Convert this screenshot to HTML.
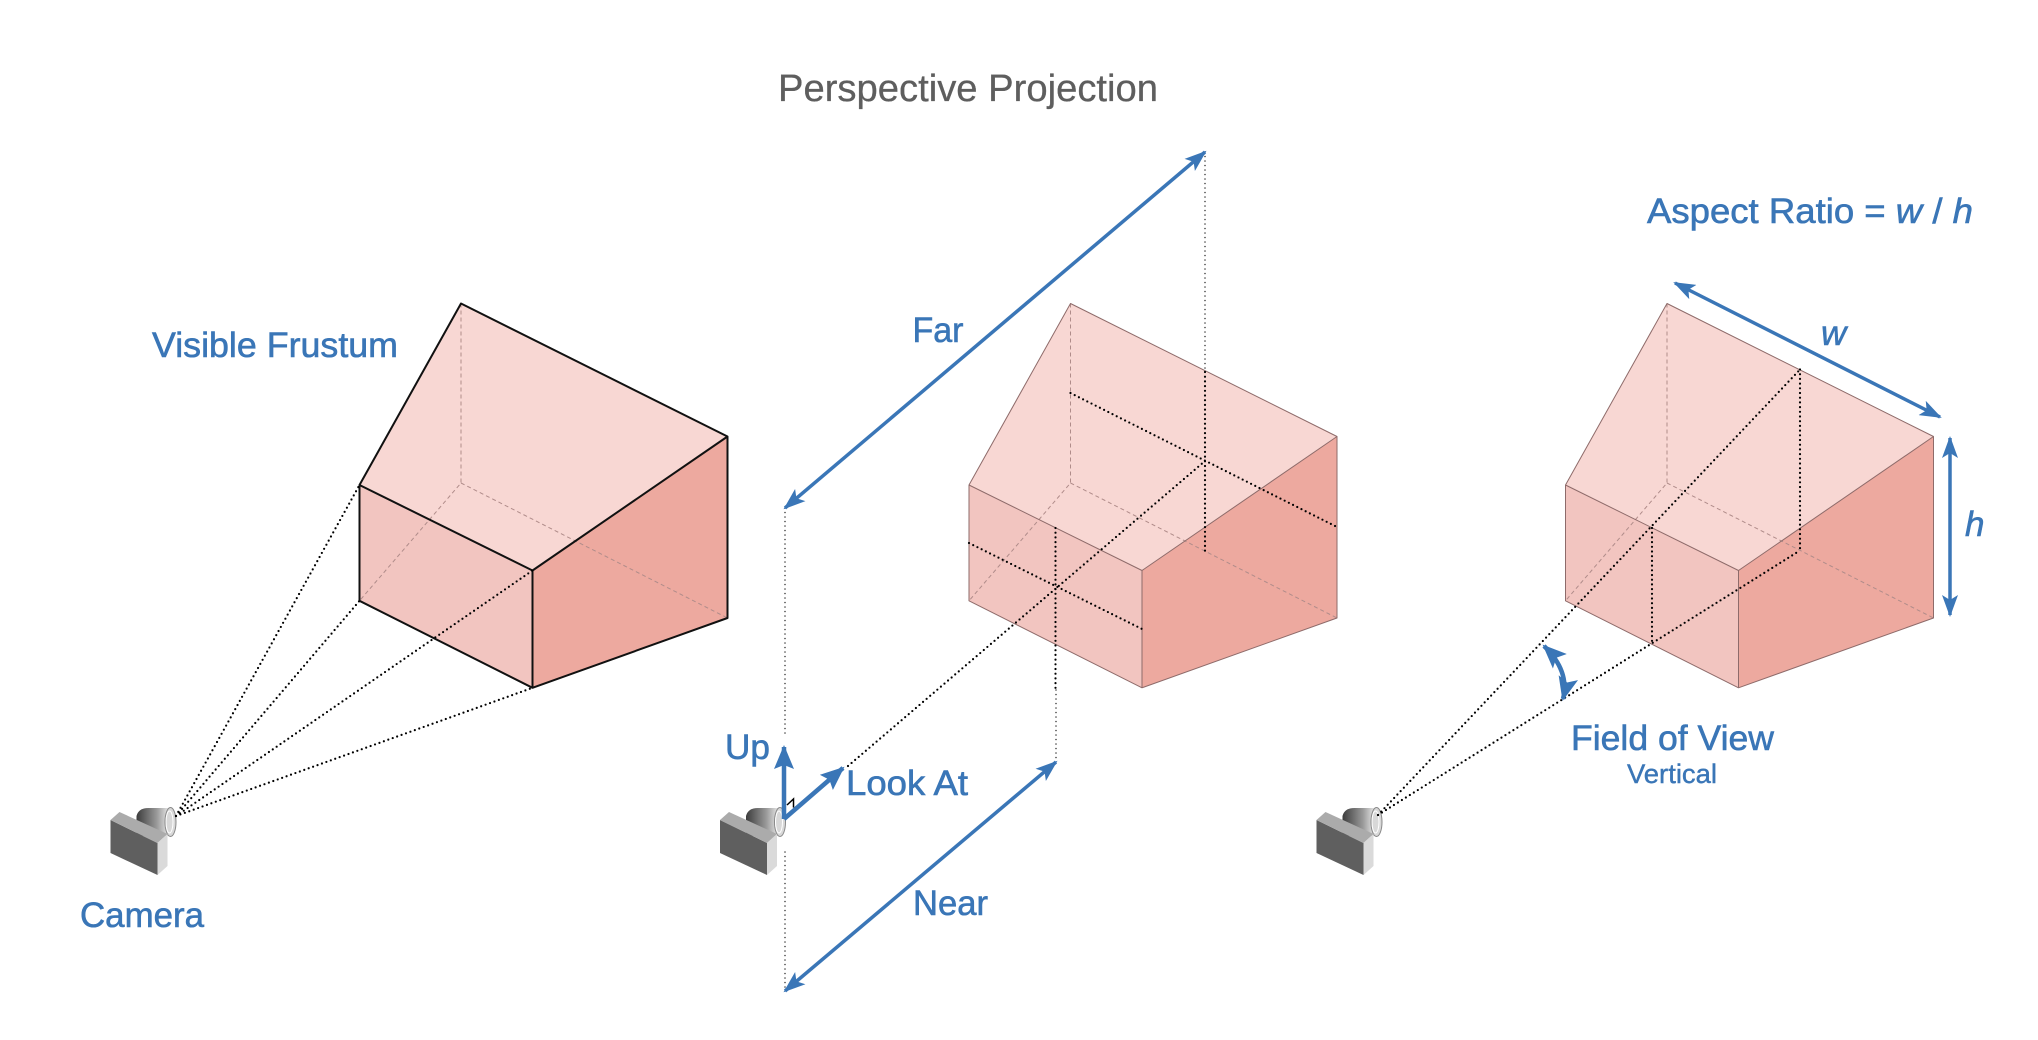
<!DOCTYPE html>
<html><head><meta charset="utf-8"><style>
html,body{margin:0;padding:0;background:#fff;}
svg{display:block;}
text{font-family:"Liberation Sans",Arial,sans-serif;}
.dot{stroke:#000;stroke-width:2.2;stroke-dasharray:0 4.7;stroke-linecap:round;fill:none;}
.dth{stroke:#333;stroke-width:1.5;stroke-dasharray:0 4.5;stroke-linecap:round;fill:none;}
.hid{stroke:#b08c8a;stroke-width:1;stroke-dasharray:4 3;fill:none;}
.arr{stroke:#3a76b7;stroke-width:3.5;fill:none;marker-start:url(#ah);marker-end:url(#ah);}
.arr2{stroke:#3a76b7;stroke-width:4.5;fill:none;marker-start:url(#ah2);marker-end:url(#ah2);}
.lbl{fill:#3a76b7;font-size:35px;stroke:#3a76b7;stroke-width:0.6;}
</style></head><body>
<svg width="2038" height="1040" viewBox="0 0 2038 1040" xmlns="http://www.w3.org/2000/svg">
<defs>
<marker id="ah" markerUnits="userSpaceOnUse" markerWidth="22" markerHeight="16" refX="20" refY="8" orient="auto-start-reverse" viewBox="0 0 22 16">
<path d="M0,0 L22,8 L0,16 L5,8 Z" fill="#3a76b7"/>
</marker>
<marker id="ah2" markerUnits="userSpaceOnUse" markerWidth="24" markerHeight="20" refX="22" refY="10" orient="auto-start-reverse" viewBox="0 0 24 20">
<path d="M0,0 L24,10 L0,20 L5,10 Z" fill="#3a76b7"/>
</marker>
<marker id="ah1" markerUnits="userSpaceOnUse" markerWidth="24" markerHeight="20" refX="22" refY="10" orient="auto" viewBox="0 0 24 20">
<path d="M0,0 L24,10 L0,20 L4,10 Z" fill="#3a76b7"/>
</marker>
<linearGradient id="lens" x1="0" y1="0" x2="1" y2="0">
<stop offset="0" stop-color="#3c3c3c"/><stop offset="0.6" stop-color="#9a9a9a"/><stop offset="1" stop-color="#f2f2f2"/>
</linearGradient>
<g id="frustum">
<polygon points="969,485 1070.5,303.5 1337,436.5 1142,570.5" fill="#f8d7d3"/>
<polygon points="969,485 1142,570.5 1142,687.8 969,600.8" fill="#f2c5c0"/>
<polygon points="1142,570.5 1337,436.5 1337,618 1142,687.8" fill="#eda99f"/>
<polyline points="1070.5,303.5 1070.5,483 969,600.8" class="hid"/>
<line x1="1070.5" y1="483" x2="1337" y2="618" class="hid"/>
</g>
<g id="camera">
<path d="M746,836 L746,816 Q748,808 758,808 L780,808 L780,836 Z" fill="url(#lens)"/>
<ellipse cx="780" cy="822" rx="5.5" ry="14.5" fill="#d8d8d8" stroke="#888" stroke-width="1"/>
<ellipse cx="779" cy="822" rx="3.5" ry="11" fill="none" stroke="#fff" stroke-width="1"/>
<polygon points="720,820 767,843 767,875 720,853" fill="#5f5f5f"/>
<polygon points="720,820 729,812 777,834 767,843" fill="#ababab"/>
<polygon points="767,843 777,834 777,866 767,875" fill="#dadada"/>
</g>
</defs>

<!-- Title -->
<text x="778" y="101" font-size="38" fill="#5e5e5e" stroke="#5e5e5e" stroke-width="0.3" textLength="380" lengthAdjust="spacingAndGlyphs">Perspective Projection</text>

<!-- LEFT PANEL -->
<g transform="translate(-609.5,0)">
<use href="#frustum"/>
<g fill="none" stroke="#111" stroke-width="2" stroke-linejoin="round">
<polygon points="969,485 1070.5,303.5 1337,436.5 1337,618 1142,687.8 969,600.8"/>
<polyline points="969,485 1142,570.5 1337,436.5"/>
<line x1="1142" y1="570.5" x2="1142" y2="687.8"/>
</g>
<use href="#camera"/>
</g>
<line x1="176" y1="816" x2="359.5" y2="485" class="dot"/>
<line x1="176" y1="816" x2="359.5" y2="600.8" class="dot"/>
<line x1="176" y1="816" x2="532.5" y2="570.5" class="dot"/>
<line x1="176" y1="816" x2="532.5" y2="687.8" class="dot"/>
<text x="152" y="357" class="lbl" textLength="246" lengthAdjust="spacingAndGlyphs">Visible Frustum</text>
<text x="80" y="927" class="lbl" textLength="124" lengthAdjust="spacingAndGlyphs">Camera</text>

<!-- MIDDLE PANEL -->
<use href="#frustum"/>
<g fill="none" stroke="#8e6b6a" stroke-width="1" stroke-linejoin="round">
<polygon points="969,485 1070.5,303.5 1337,436.5 1337,618 1142,687.8 969,600.8"/>
<polyline points="969,485 1142,570.5 1337,436.5"/>
<line x1="1142" y1="570.5" x2="1142" y2="687.8"/>
</g>
<line x1="1205" y1="152" x2="1205" y2="372" class="dth"/>
<line x1="1205" y1="372" x2="1205" y2="551" class="dot"/>
<line x1="1070.5" y1="393" x2="1337" y2="527" class="dot"/>
<line x1="969" y1="543" x2="1142" y2="629" class="dot"/>
<line x1="1055.5" y1="528" x2="1055.5" y2="688" class="dot"/>
<line x1="1056" y1="690" x2="1056" y2="762" class="dth"/>
<line x1="848" y1="766" x2="1205" y2="461" class="dot"/>
<line x1="785" y1="508" x2="785" y2="737" class="dth"/>
<line x1="785" y1="852" x2="785" y2="991" class="dth"/>
<line x1="785" y1="508" x2="1205" y2="152" class="arr"/>
<line x1="785" y1="991" x2="1056" y2="762" class="arr"/>
<use href="#camera"/>
<line x1="784" y1="819" x2="784" y2="747" stroke="#3a76b7" stroke-width="4.5" marker-end="url(#ah1)"/>
<line x1="784" y1="819" x2="843" y2="768" stroke="#3a76b7" stroke-width="4.5" marker-end="url(#ah1)"/>
<polyline points="787,805 793.5,799 793.5,807.5" fill="none" stroke="#000" stroke-width="1.5"/>
<text x="912.5" y="342" class="lbl" textLength="51" lengthAdjust="spacingAndGlyphs">Far</text>
<text x="725" y="759" class="lbl" textLength="45" lengthAdjust="spacingAndGlyphs">Up</text>
<text x="846" y="795" class="lbl" textLength="122" lengthAdjust="spacingAndGlyphs">Look At</text>
<text x="913" y="915" class="lbl" textLength="75" lengthAdjust="spacingAndGlyphs">Near</text>

<!-- RIGHT PANEL -->
<g transform="translate(596.5,0)">
<use href="#frustum"/>
<g fill="none" stroke="#8e6b6a" stroke-width="1" stroke-linejoin="round">
<polygon points="969,485 1070.5,303.5 1337,436.5 1337,618 1142,687.8 969,600.8"/>
<polyline points="969,485 1142,570.5 1337,436.5"/>
<line x1="1142" y1="570.5" x2="1142" y2="687.8"/>
</g>
<use href="#camera"/>
</g>
<line x1="1378" y1="815" x2="1800" y2="369.5" class="dot"/>
<line x1="1378" y1="815" x2="1800" y2="550.5" class="dot"/>
<line x1="1800" y1="369.5" x2="1800" y2="550.5" class="dot"/>
<line x1="1652" y1="528" x2="1652" y2="644" class="dot"/>
<line x1="1675" y1="283" x2="1940" y2="417" class="arr"/>
<line x1="1950" y1="438" x2="1950" y2="615" class="arr"/>
<path d="M1544,646 Q1570,671 1563,699" class="arr2"/>
<text x="1647" y="223" class="lbl" textLength="326" lengthAdjust="spacingAndGlyphs">Aspect Ratio = <tspan font-style="italic">w</tspan> / <tspan font-style="italic">h</tspan></text>
<text x="1821" y="345" class="lbl" font-style="italic">w</text>
<text x="1965" y="536" class="lbl" font-style="italic">h</text>
<text x="1571" y="750" class="lbl" textLength="203" lengthAdjust="spacingAndGlyphs">Field of View</text>
<text x="1627" y="783" fill="#3a76b7" stroke="#3a76b7" stroke-width="0.4" font-size="27" textLength="90" lengthAdjust="spacingAndGlyphs">Vertical</text>
</svg>
</body></html>
